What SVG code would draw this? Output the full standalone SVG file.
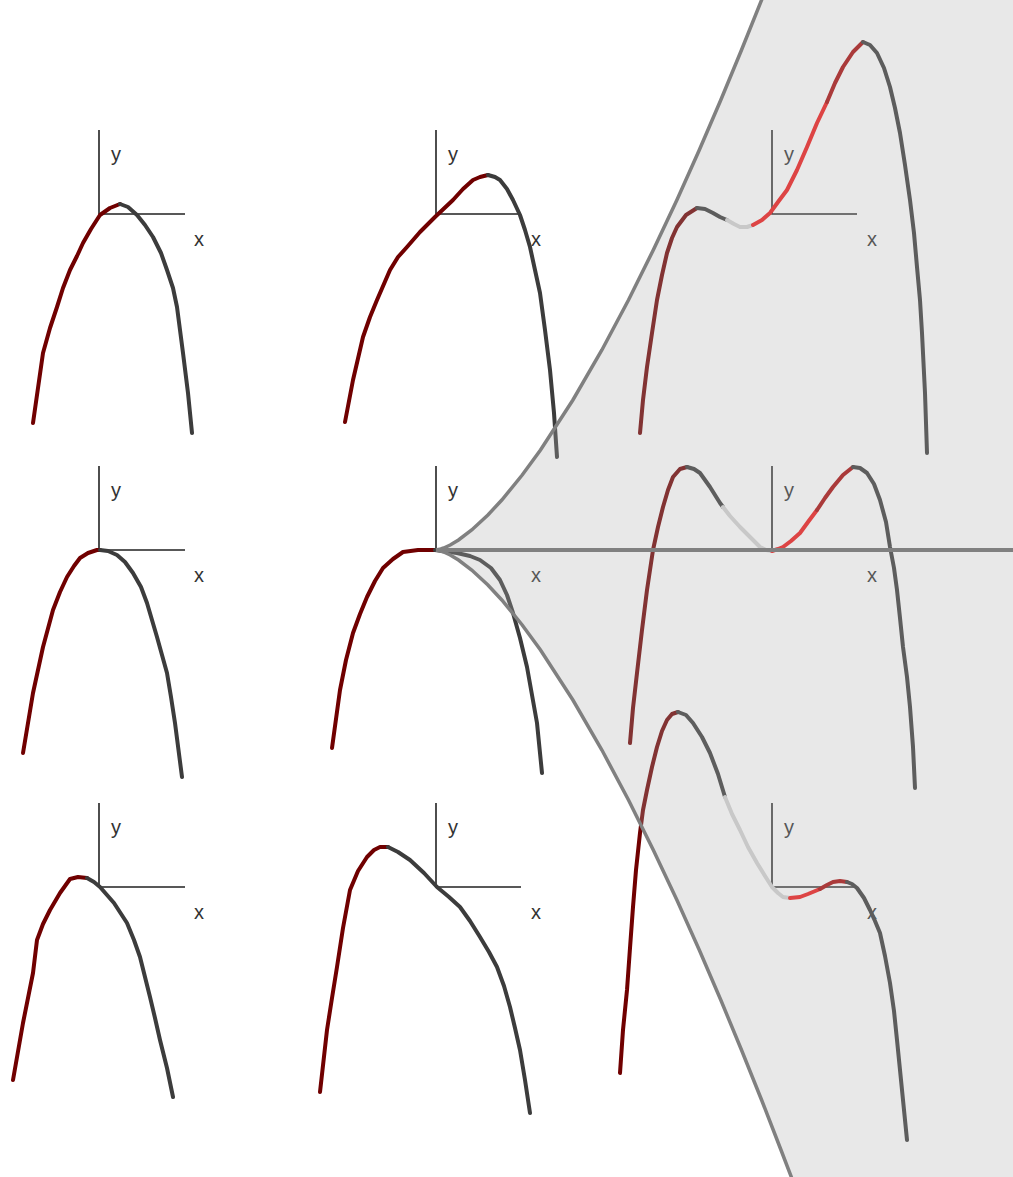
<svg xmlns="http://www.w3.org/2000/svg" width="1013" height="1177" viewBox="0 0 1013 1177">
<style>
.ax{stroke:#222;stroke-width:1.6;fill:none}
.c{fill:none;stroke-width:4;stroke-linejoin:round;stroke-linecap:round}
.m{stroke:#700000}
.g{stroke:#3c3c3c}
.lg{stroke:#d2d2d2}
.br{stroke:#f01818}
.dr{stroke:#a80a0a}
.lb{font-family:"Liberation Sans",Arial,sans-serif;font-size:20px;fill:#333}
.bd{fill:none;stroke:#808080;stroke-width:3.5}
</style>
<rect x="0" y="0" width="1013" height="1177" fill="#fff"/>

<g id="p11">
<path class="ax" d="M99,130V214H185"/>
<text class="lb" x="111" y="161">y</text><text class="lb" x="194" y="246">x</text>
<polyline class="c m" points="33,423 38,388 43,353 50,328 57,307 63,288 70,270 77,256 83,243 91,229 100,215 110,208 120,204"/>
<polyline class="c g" points="120,204 128,207 137,215 145,225 153,237 161,253 167,270 173,288 177,307 180,330 183,353 188,393 192,433"/>
</g>
<g id="p21">
<path class="ax" d="M99,466V550H185"/>
<text class="lb" x="111" y="497">y</text><text class="lb" x="194" y="582">x</text>
<polyline class="c m" points="23,753 33,693 43,647 53,610 60,592 67,577 74,566 80,558 88,553 97,550 100,550"/>
<polyline class="c g" points="100,550 108,551 117,555 125,562 133,573 141,587 147,603 152,620 157,637 162,655 167,673 171,697 175,723 182,777"/>
</g>
<g id="p31">
<path class="ax" d="M99,803V887H185"/>
<text class="lb" x="111" y="834">y</text><text class="lb" x="194" y="919">x</text>
<polyline class="c m" points="13,1080 23,1023 33,973 37,940 43,924 50,910 60,893 70,879 78,877 87,878"/>
<polyline class="c g" points="87,878 94,882 100,887 114,903 127,923 134,940 140,957 145,977 150,997 155,1018 160,1040 167,1068 173,1097"/>
</g>

<g id="p12">
<path class="ax" d="M436,130V214H521"/>
<text class="lb" x="448" y="161">y</text><text class="lb" x="531" y="246">x</text>
<polyline class="c m" points="345,422 353,380 363,337 370,317 377,300 390,270 398,257 407,247 420,232 435,217 453,200 463,189 473,180 480,177 488,175"/>
<polyline class="c g" points="488,175 495,177 500,180 507,189 513,200 520,215 525,230 530,247 535,270 540,293 545,330 550,370 554,413 557,457"/>
</g>
<g id="p22">
<path class="ax" d="M436,466V550H521"/>
<text class="lb" x="448" y="497">y</text><text class="lb" x="531" y="582">x</text>
<polyline class="c m" points="332,748 340,690 346,660 353,633 360,614 367,597 375,581 383,568 393,559 403,552 418,550 435,550"/>
<polyline class="c g" points="435,550 457,553 470,556 480,560 491,568 500,580 507,595 513,613 520,638 527,667 532,695 537,723 542,773"/>
</g>
<g id="p32">
<path class="ax" d="M436,803V887H521"/>
<text class="lb" x="448" y="834">y</text><text class="lb" x="531" y="919">x</text>
<polyline class="c m" points="320,1092 327,1030 332,998 337,967 343,928 350,890 358,871 367,857 374,850 380,847 388,847"/>
<polyline class="c g" points="388,847 398,852 410,860 424,873 437,887 449,897 460,907 470,921 480,937 489,952 497,967 504,986 510,1007 515,1028 520,1050 525,1080 530,1113"/>
</g>

<g id="p13">
<path class="ax" d="M772,130V214H857"/>
<text class="lb" x="784" y="161">y</text><text class="lb" x="867" y="246">x</text>
<polyline class="c m" points="640,433 643,400 647,367 652,333 657,300 662,275 667,253 672,238 677,227 686,215 697,208"/>
<polyline class="c g" points="697,208 705,209 713,213 720,217 727,220"/>
<polyline class="c lg" points="727,220 734,224 740,227 747,227 753,225"/>
<polyline class="c br" points="753,225 762,220 770,213 778,202 787,190 797,170 807,147 817,123 827,102"/>
<polyline class="c dr" points="827,102 835,83 843,67 853,52 863,42"/>
<polyline class="c g" points="863,42 870,45 877,53 884,68 890,87 895,108 900,133 905,165 910,200 914,233 917,267 920,300 922,333 925,393 927,453"/>
</g>
<g id="p23">
<path class="ax" d="M772,466V550H857"/>
<text class="lb" x="784" y="497">y</text><text class="lb" x="867" y="582">x</text>
<polyline class="c m" points="630,743 633,708 637,673 642,630 647,590 650,570 653,550 658,527 663,507 668,490 673,477 680,469 687,467"/>
<polyline class="c g" points="687,467 694,469 700,473 710,487 720,503 723,507"/>
<polyline class="c lg" points="723,507 730,516 740,527 750,537 760,547 766,550 772,551"/>
<polyline class="c br" points="772,551 778,549 783,547 791,541 800,533 808,522 817,510"/>
<polyline class="c dr" points="817,510 825,498 833,487 843,475 853,467"/>
<polyline class="c g" points="853,467 860,468 867,473 874,484 880,500 886,522 890,547 894,568 897,590 900,618 903,647 907,677 910,707 913,747 915,788"/>
</g>
<g id="p33">
<path class="ax" d="M772,803V887H855"/>
<text class="lb" x="784" y="834">y</text><text class="lb" x="867" y="919">x</text>
<polyline class="c m" points="620,1073 623,1030 627,990 630,948 633,907 636,870 640,833 643,810 647,790 652,767 657,747 662,731 667,720 672,714 678,712"/>
<polyline class="c g" points="678,712 686,715 693,723 702,737 710,753 718,774 725,797"/>
<polyline class="c lg" points="725,797 732,814 740,830 748,847 757,863 765,876 772,887 778,893 783,897 790,898"/>
<polyline class="c br" points="790,898 800,897 808,894 820,889"/>
<polyline class="c dr" points="820,889 827,885 833,882 840,881 847,882"/>
<polyline class="c g" points="847,882 852,884 857,888 864,898 870,910 875,921 880,933 885,956 890,983 894,1011 897,1040 902,1090 907,1140"/>
</g>

<g id="connectors">
<path id="region" fill="#afafaf" fill-opacity="0.29" d="M765.6,-10 L741.5,50 720.8,100 699.3,150 676.9,200 653.3,250 628.5,300 601.9,350 572.9,400 540.5,450 522.2,475 501.8,500 487.9,515 471.7,530 458.5,540 450.2,545 443.7,548 440.85,549 436,550 440.85,551 443.7,552 450.2,555 458.5,560 471.7,570 487.9,585 501.8,600 522.2,625 540.5,650 572.9,700 601.9,750 628.5,800 653.3,850 676.9,900 699.3,950 720.8,1000 741.5,1050 761.6,1100 781,1150 796.3,1190 L1020,1190 L1020,-10 Z"/>
<polyline class="bd" points="765.6,-10 741.5,50 720.8,100 699.3,150 676.9,200 653.3,250 628.5,300 601.9,350 572.9,400 540.5,450 522.2,475 501.8,500 487.9,515 471.7,530 458.5,540 450.2,545 443.7,548 440.85,549 436,550"/>
<polyline class="bd" points="436,550 440.85,551 443.7,552 450.2,555 458.5,560 471.7,570 487.9,585 501.8,600 522.2,625 540.5,650 572.9,700 601.9,750 628.5,800 653.3,850 676.9,900 699.3,950 720.8,1000 741.5,1050 761.6,1100 781,1150 796.3,1190"/>
<line x1="436" y1="550" x2="1013" y2="550" stroke="#808080" stroke-width="4"/>
</g>
</svg>
